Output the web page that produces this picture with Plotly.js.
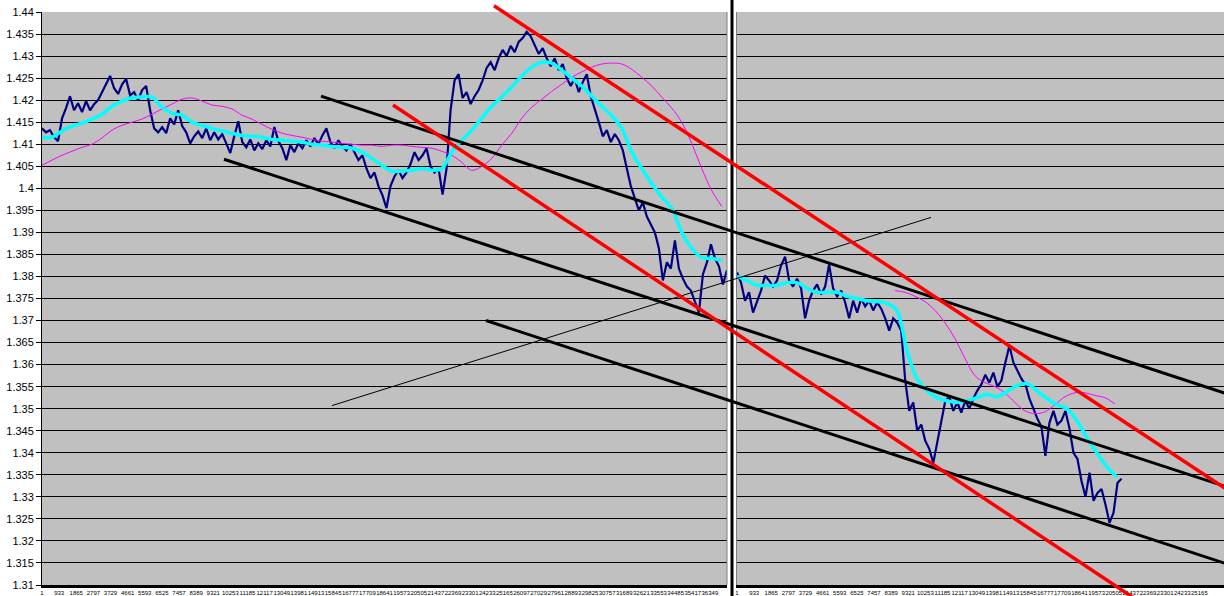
<!DOCTYPE html>
<html><head><meta charset="utf-8">
<script src="https://cdn.plot.ly/plotly-3.0.1.min.js"></script>
<style>html,body{margin:0;padding:0;overflow:hidden;background:#fff;width:1224px;height:596px}#chart{width:1440px;height:604px}</style>
</head><body><div id="chart"></div>
<script>
// ---- data ----
const leftPrice = [
1.4136,1.4127,1.4132,1.4116,1.4107,1.4159,1.4182,1.4209,1.4177,1.4193,
1.4173,1.4198,1.4177,1.4191,1.4200,1.4218,1.4236,1.4255,1.4227,1.4214,
1.4236,1.4248,1.4211,1.4218,1.4200,1.4223,1.4232,1.4177,1.4136,1.4127,
1.4139,1.4125,1.4159,1.4145,1.4177,1.4141,1.4127,1.4102,1.4118,1.4129,
1.4114,1.4136,1.4109,1.4127,1.4111,1.4123,1.4102,1.4080,1.4118,1.4152,
1.4105,1.4093,1.4111,1.4086,1.4102,1.4089,1.4109,1.4095,1.4139,1.4107,
1.4091,1.4064,1.4098,1.4082,1.4102,1.4091,1.4109,1.4095,1.4114,1.4100,
1.4120,1.4136,1.4105,1.4091,1.4109,1.4095,1.4086,1.4100,1.4082,1.4064,
1.4075,1.4045,1.4023,1.4036,1.4005,1.3984,1.3955,1.4005,1.4027,1.4041,
1.4023,1.4036,1.4055,1.4082,1.4064,1.4075,1.4091,1.4050,1.4036,1.4045,
1.3986,1.4045,1.4177,1.4245,1.4259,1.4205,1.4218,1.4191,1.4209,1.4223,
1.4245,1.4273,1.4286,1.4268,1.4295,1.4314,1.4300,1.4323,1.4309,1.4332,
1.4341,1.4355,1.4345,1.4323,1.4305,1.4318,1.4295,1.4277,1.4295,1.4268,
1.4282,1.4250,1.4232,1.4250,1.4218,1.4241,1.4259,1.4209,1.4182,1.4150,
1.4118,1.4132,1.4105,1.4123,1.4109,1.4086,1.4045,1.4005,1.3977,1.3950,
1.3968,1.3936,1.3918,1.3900,1.3864,1.3791,1.3832,1.3818,1.3882,1.3818,
1.3795,1.3777,1.3768,1.3745,1.3718,1.3805,1.3832,1.3873,1.3841,1.3823,
1.3782,1.3814];
const leftFastMA = [
1.4116,1.4116,1.4130,1.4141,1.4148,1.4157,1.4168,1.4186,1.4198,1.4205,
1.4207,1.4207,1.4184,1.4170,1.4166,1.4150,1.4143,1.4136,1.4130,1.4125,
1.4120,1.4118,1.4116,1.4111,1.4109,1.4107,1.4105,1.4100,1.4098,1.4095,
1.4093,1.4091,1.4082,1.4068,1.4052,1.4039,1.4039,1.4041,1.4045,1.4041,
1.4045,1.4082,1.4109,1.4132,1.4159,1.4186,1.4207,1.4230,1.4255,1.4275,
1.4286,1.4284,1.4268,1.4250,1.4232,1.4209,1.4186,1.4164,1.4136,1.4082,
1.4045,1.4011,1.3980,1.3955,1.3900,1.3864,1.3843,1.3841,1.3836];
const leftSlowMA = [
1.4052,1.4064,1.4075,1.4084,1.4093,1.4100,1.4114,1.4132,1.4143,1.4150,
1.4157,1.4168,1.4180,1.4191,1.4202,1.4205,1.4198,1.4189,1.4186,1.4180,
1.4166,1.4157,1.4145,1.4134,1.4125,1.4120,1.4116,1.4111,1.4107,1.4105,
1.4102,1.4100,1.4098,1.4098,1.4095,1.4098,1.4098,1.4095,1.4093,1.4091,
1.4084,1.4075,1.4059,1.4041,1.4050,1.4068,1.4098,1.4125,1.4159,1.4184,
1.4202,1.4220,1.4236,1.4252,1.4264,1.4275,1.4282,1.4284,1.4282,1.4270,
1.4252,1.4232,1.4207,1.4182,1.4150,1.4102,1.4045,1.3995,1.3959];
const rightPrice = [
1.3809,1.3786,1.3745,1.3764,1.3718,1.3745,1.3768,1.3802,1.3791,1.3777,
1.3791,1.3825,1.3845,1.3791,1.3777,1.3795,1.3773,1.3705,1.3745,1.3768,
1.3782,1.3759,1.3777,1.3827,1.3773,1.3755,1.3768,1.3741,1.3705,1.3745,
1.3718,1.3750,1.3732,1.3745,1.3723,1.3741,1.3727,1.3705,1.3677,1.3705,
1.3695,1.3677,1.3564,1.3495,1.3514,1.3450,1.3464,1.3427,1.3409,1.3377,
1.3427,1.3477,1.3518,1.3527,1.3495,1.3514,1.3491,1.3518,1.3500,1.3523,
1.3541,1.3555,1.3577,1.3559,1.3582,1.3550,1.3564,1.3605,1.3643,1.3605,
1.3586,1.3568,1.3555,1.3523,1.3500,1.3477,1.3459,1.3393,1.3468,1.3495,
1.3464,1.3473,1.3495,1.3455,1.3400,1.3386,1.3336,1.3300,1.3355,1.3291,
1.3309,1.3318,1.3282,1.3241,1.3264,1.3332,1.3341];
const rightFastMA = [
1.3800,1.3791,1.3780,1.3780,1.3780,1.3786,1.3786,1.3773,1.3764,1.3764,
1.3764,1.3755,1.3750,1.3745,1.3743,1.3739,1.3723,1.3632,1.3568,1.3541,
1.3525,1.3518,1.3514,1.3518,1.3525,1.3532,1.3527,1.3539,1.3552,1.3557,
1.3541,1.3523,1.3509,1.3500,1.3473,1.3434,1.3400,1.3368,1.3345];
const rightSlowMA = [
1.3768,1.3764,1.3755,1.3743,1.3723,1.3695,1.3659,1.3614,1.3575,1.3559,
1.3550,1.3536,1.3514,1.3495,1.3489,1.3493,1.3509,1.3527,1.3536,1.3536,
1.3530,1.3525,1.3511];
const xTickLabels = ['1','933','1865','2797','3729','4661','5593','6525','7457','8389',
'9321','10253','11185','12117','13049','13981','14913','15845','16777','17709',
'18641','19573','20505','21437','22369','23301','24233','25165','26097','27029',
'27961','28893','29825','30757','31689','32621','33553','34485','35417','36349'];
const yTickLabels = ['1.31','1.315','1.32','1.325','1.33','1.335','1.34','1.345','1.35','1.355',
'1.36','1.365','1.37','1.375','1.38','1.385','1.39','1.395','1.4','1.405',
'1.41','1.415','1.42','1.425','1.43','1.435','1.44'];
const priceStep = 218;      // bar index between price samples
const maStep = 544;         // bar index between moving-average samples
const rightSlowStart = 8600;
// trend lines: [startBar, startPrice, endBar, endPrice] on a continuous bar scale across the figure
const trendRed = [[24600,1.4414,66288,1.3267],[19103,1.4189,60846,1.3031]];
const trendBlack = [[15185,1.4209,66288,1.3509],[9906,1.4066,66288,1.3298],[24165,1.3700,66288,1.3123]];
const trendThin = [[15784,1.3507,48383,1.3934]];

// ---- layout constants ----
const pageW = 1224, figW = 1440, mL = 42, mR = 18;
const plotW = figW - mL - mR;
const xRange = [1, 37281];
const yRange = [1.31, 1.44];
const domL = [0, 685/plotW];
const domR = [695/plotW, 1];
const fullUnits = (xRange[1]-xRange[0])/(domL[1]-domL[0]);
const px = u => (u - xRange[0]) / fullUnits;
const py = p => (p - yRange[0]) / (yRange[1]-yRange[0]);
const xs = (n, step, start) => Array.from({length:n}, (_, i) => start + i*step);
// right panel: only the labels that fit inside the visible page
const rightVisibleMax = xRange[0] + (pageW - (mL + domR[0]*plotW) - 12) * fullUnits / plotW;

const traces = [
 {x: xs(leftPrice.length, priceStep, 1), y: leftPrice, xaxis:'x', yaxis:'y', mode:'lines', line:{color:'#000080', width:2.2}},
 {x: xs(leftSlowMA.length, maStep, 1), y: leftSlowMA, xaxis:'x', yaxis:'y', mode:'lines', line:{color:'#ff00ff', width:1, shape:'spline'}},
 {x: xs(leftFastMA.length, maStep, 1), y: leftFastMA, xaxis:'x', yaxis:'y', mode:'lines', line:{color:'#00ffff', width:3.5, shape:'spline'}},
 {x: xs(rightPrice.length, priceStep, 1), y: rightPrice, xaxis:'x2', yaxis:'y2', mode:'lines', line:{color:'#000080', width:2.2}},
 {x: xs(rightSlowMA.length, maStep, rightSlowStart), y: rightSlowMA, xaxis:'x2', yaxis:'y2', mode:'lines', line:{color:'#ff00ff', width:1, shape:'spline'}},
 {x: xs(rightFastMA.length, maStep, 1), y: rightFastMA, xaxis:'x2', yaxis:'y2', mode:'lines', line:{color:'#00ffff', width:3.5, shape:'spline'}}
];

const shapes = [];
const addLines = (arr, color, width) => arr.forEach(t => shapes.push({type:'line', xref:'paper', yref:'paper',
  x0:px(t[0]), y0:py(t[1]), x1:px(t[2]), y1:py(t[3]), line:{color:color, width:width}, layer:'above'}));
// panel borders
shapes.push({type:'line', xref:'paper', yref:'paper', x0:domL[1], x1:domL[1], y0:0, y1:1, line:{color:'#808080', width:1}, layer:'above'});
shapes.push({type:'line', xref:'paper', yref:'paper', x0:(domL[1]+domR[0])/2, x1:(domL[1]+domR[0])/2, y0:-0.1, y1:1.1, line:{color:'#000000', width:3}, layer:'above'});
addLines(trendThin, '#000000', 1);
addLines(trendBlack, '#000000', 3);
addLines(trendRed, '#ff0000', 3.5);

const tickVals = xTickLabels.map(Number);
const rightLabels = xTickLabels.filter(t => Number(t) <= rightVisibleMax);
const yVals = yTickLabels.map(Number);
const xAxisBase = {range:xRange, tickmode:'array', tickangle:0, showgrid:false, zeroline:false,
  showline:true, linecolor:'#000000', linewidth:3, ticks:'', ticklabelstandoff:0, tickfont:{family:'Arial', size:6, color:'#000'}, fixedrange:true};
const layout = {
  width:figW, height:604, margin:{l:mL, r:mR, t:12, b:19},
  paper_bgcolor:'#ffffff', plot_bgcolor:'#c0c0c0', showlegend:false,
  xaxis: Object.assign({domain:domL, anchor:'y', tickvals:tickVals, ticktext:xTickLabels}, xAxisBase),
  xaxis2: Object.assign({domain:domR, anchor:'y2', tickvals:rightLabels.map(Number), ticktext:rightLabels}, xAxisBase),
  yaxis: {domain:[0,1], range:yRange, tickmode:'array', tickvals:yVals, ticktext:yTickLabels, showgrid:true, gridcolor:'#000000', gridwidth:1,
    zeroline:false, showline:true, linecolor:'#000000', linewidth:1, ticks:'outside', ticklen:5, tickcolor:'#000000',
    tickfont:{family:'Arial', size:11, color:'#000'}, anchor:'x', fixedrange:true},
  yaxis2: {domain:[0,1], range:yRange, tickmode:'array', tickvals:yVals, showticklabels:false, showgrid:true, gridcolor:'#000000', gridwidth:1,
    zeroline:false, showline:true, linecolor:'#808080', linewidth:1, ticks:'', anchor:'x2', fixedrange:true},
  shapes: shapes
};
Plotly.newPlot('chart', traces, layout, {displayModeBar:false, staticPlot:true});
</script></body></html>
